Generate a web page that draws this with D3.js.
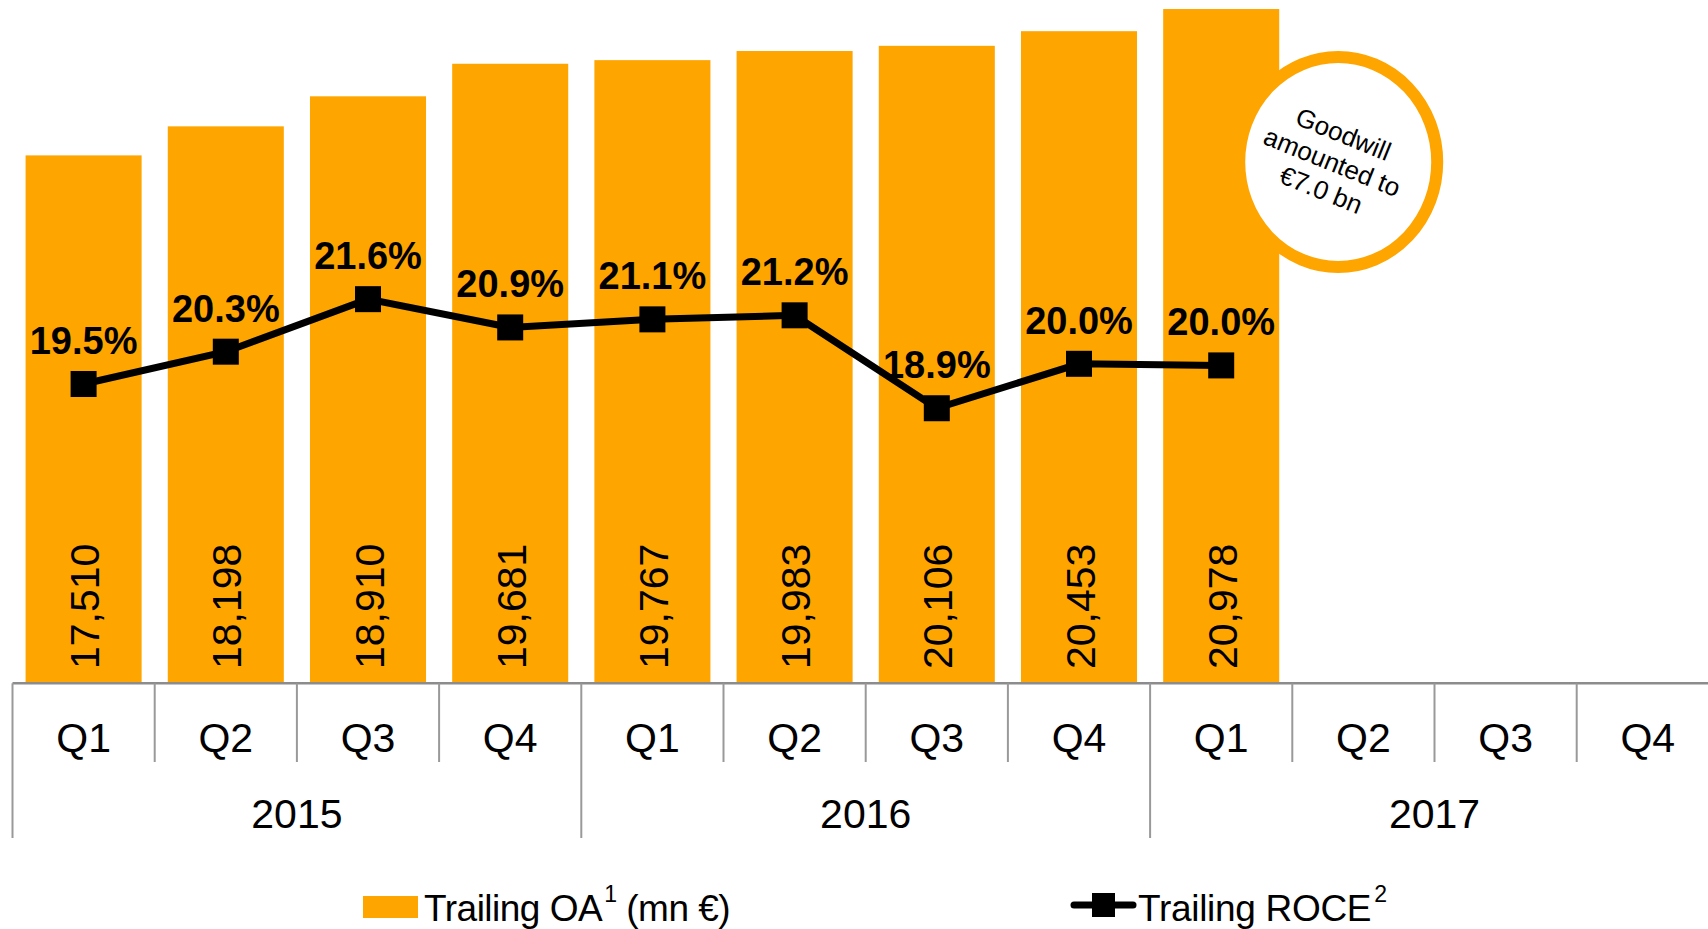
<!DOCTYPE html>
<html>
<head>
<meta charset="utf-8">
<script src="https://cdn.jsdelivr.net/npm/d3@7"></script>
<style>
  body { margin: 0; background: #fff; }
  text { font-family: "Liberation Sans", Arial, sans-serif; }
</style>
</head>
<body>
<svg id="chart"></svg>
<script>
const width = 1708;
const height = 929;

// data
const quarters = ['Q1', 'Q2', 'Q3', 'Q4', 'Q1', 'Q2', 'Q3', 'Q4', 'Q1', 'Q2', 'Q3', 'Q4'];
const years = ['2015', '2016', '2017'];
const trailingOA = [17510, 18198, 18910, 19681, 19767, 19983, 20106, 20453, 20978];
const trailingROCE = [19.5, 20.3, 21.6, 20.9, 21.1, 21.2, 18.9, 20.0, 19.96];
const note = ['Goodwill', 'amounted to', '€7.0 bn'];

const orange = '#FFA500';
const axisY = 683.3;
const step = 142.2;
const left = 12.5;

const svg = d3.select('#chart')
    .attr('width', width)
    .attr('height', height);

const x = d3.scaleBand()
    .domain(d3.range(quarters.length))
    .range([left, left + step * quarters.length])
    .paddingInner(0.184)
    .paddingOuter(0.092);

const xCenter = i => x(i) + x.bandwidth() / 2;

const yBar = d3.scaleLinear().domain([5000, 21192]).range([axisY, 0]);
const yLine = d3.scaleLinear().domain([18, 22]).range([444.6, 283]);

// bars
svg.append('g').selectAll('rect')
    .data(trailingOA)
    .enter()
    .append('rect')
    .attr('x', (d, i) => x(i))
    .attr('y', d => yBar(d))
    .attr('width', x.bandwidth())
    .attr('height', d => axisY - yBar(d))
    .style('fill', orange);

// bar values, rotated
svg.append('g').selectAll('text')
    .data(trailingOA)
    .enter()
    .append('text')
    .attr('transform', (d, i) => `translate(${xCenter(i) + 15.5}, 669) rotate(-90)`)
    .attr('font-size', 41)
    .attr('fill', '#000')
    .text(d => d3.format(',')(d));

// goodwill callout
const cx = x(trailingOA.length - 1) + x.bandwidth() + 59;
const cy = 162;
svg.append('ellipse')
    .attr('cx', cx)
    .attr('cy', cy)
    .attr('rx', 99)
    .attr('ry', 105)
    .style('fill', '#fff')
    .style('stroke', orange)
    .style('stroke-width', 12);

svg.append('g')
    .attr('transform', `translate(${cx - 6}, ${cy}) rotate(22)`)
    .selectAll('text')
    .data(note)
    .enter()
    .append('text')
    .attr('x', 0)
    .attr('y', (d, i) => (i - 1) * 30 + 9)
    .attr('text-anchor', 'middle')
    .attr('font-size', 26)
    .text(d => d);

// axis line and dividers
svg.append('line')
    .attr('x1', left).attr('x2', width)
    .attr('y1', axisY).attr('y2', axisY)
    .style('stroke', '#8c8c8c')
    .style('stroke-width', 2.6);

svg.append('g').selectAll('line')
    .data(d3.range(quarters.length))
    .enter()
    .append('line')
    .attr('x1', i => left + step * i)
    .attr('x2', i => left + step * i)
    .attr('y1', axisY)
    .attr('y2', i => i % 4 == 0 ? 838 : 762)
    .style('stroke', '#999')
    .style('stroke-width', 2);

svg.append('g').selectAll('text')
    .data(quarters)
    .enter()
    .append('text')
    .attr('x', (d, i) => xCenter(i))
    .attr('y', 752)
    .attr('text-anchor', 'middle')
    .attr('font-size', 41)
    .text(d => d);

svg.append('g').selectAll('text')
    .data(years)
    .enter()
    .append('text')
    .attr('x', (d, i) => left + step * (i * 4 + 2))
    .attr('y', 828)
    .attr('text-anchor', 'middle')
    .attr('font-size', 41)
    .text(d => d);

// ROCE line
const line = d3.line()
    .x((d, i) => xCenter(i))
    .y(d => yLine(d));

svg.append('path')
    .datum(trailingROCE)
    .attr('d', line)
    .style('fill', 'none')
    .style('stroke', '#000')
    .style('stroke-width', 7);

svg.append('g').selectAll('rect')
    .data(trailingROCE)
    .enter()
    .append('rect')
    .attr('x', (d, i) => xCenter(i) - 13)
    .attr('y', d => yLine(d) - 13)
    .attr('width', 26)
    .attr('height', 26)
    .style('fill', '#000');

svg.append('g').selectAll('text')
    .data(trailingROCE)
    .enter()
    .append('text')
    .attr('x', (d, i) => xCenter(i))
    .attr('y', d => yLine(d) - 30)
    .attr('text-anchor', 'middle')
    .attr('font-size', 38)
    .attr('font-weight', 'bold')
    .text(d => d.toFixed(1) + '%');

// legend
const legend = svg.append('g');
legend.append('rect')
    .attr('x', 363).attr('y', 896)
    .attr('width', 55).attr('height', 22)
    .style('fill', orange);

const oaText = legend.append('text')
    .attr('x', 424).attr('y', 921)
    .attr('font-size', 37)
    .attr('letter-spacing', -0.5);
oaText.append('tspan').text('Trailing OA');
oaText.append('tspan').attr('font-size', 23).attr('dy', -19).attr('dx', 2).text('1');
oaText.append('tspan').attr('dy', 19).text(' (mn €)');

legend.append('line')
    .attr('x1', 1074).attr('x2', 1133)
    .attr('y1', 905).attr('y2', 905)
    .style('stroke', '#000')
    .style('stroke-width', 7)
    .style('stroke-linecap', 'round');
legend.append('rect')
    .attr('x', 1092).attr('y', 893)
    .attr('width', 23).attr('height', 24)
    .style('fill', '#000');

const roceText = legend.append('text')
    .attr('x', 1138).attr('y', 921)
    .attr('font-size', 37)
    .attr('letter-spacing', -0.3);
roceText.append('tspan').text('Trailing ROCE');
roceText.append('tspan').attr('font-size', 23).attr('dy', -19).attr('dx', 3).text('2');
</script>
</body>
</html>
